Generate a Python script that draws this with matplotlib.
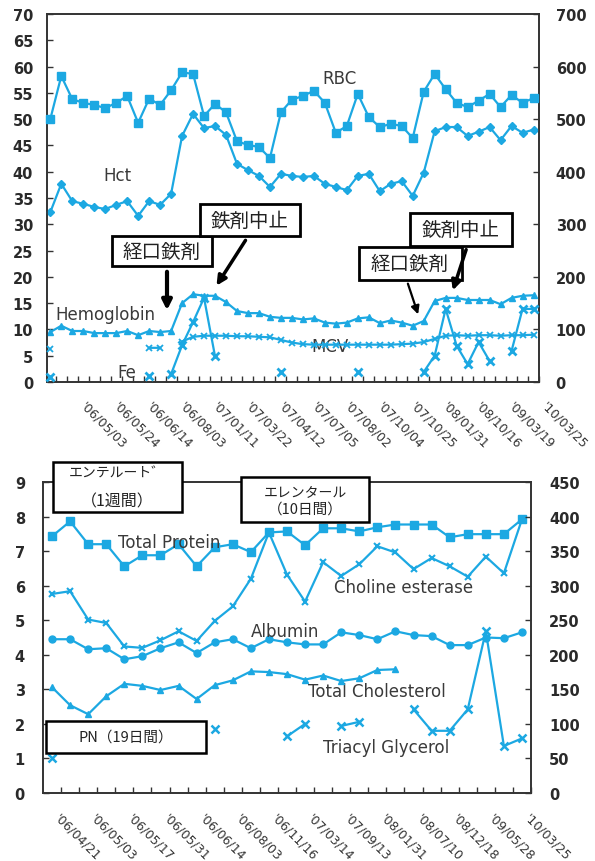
import matplotlib
matplotlib.use('Agg')
import matplotlib.pyplot as plt
from matplotlib.patches import Rectangle, FancyArrowPatch
import numpy as np

plt.rcParams['font.family'] = ['DejaVu Sans', 'Noto Sans CJK JP']

BLUE = '#1ca8e2'
INK = '#333333'
nan = np.nan

# ---- upper panel: blood count / iron ----
top_dates = ["'06/05/03", "'06/05/24", "'06/06/14", "'06/08/03", "'07/01/11",
             "'07/03/22", "'07/04/12", "'07/07/05", "'07/08/02", "'07/10/04",
             "'07/10/25", "'08/01/31", "'08/10/16", "'09/03/19", "'10/03/25"]

# RBC (x10^4/uL, right axis)
rbc = [500, 582, 538, 531, 527, 521, 531, 544, 493, 539, 527, 555, 589, 586, 506,
       529, 513, 458, 451, 447, 426, 513, 537, 544, 554, 531, 474, 487, 548, 504,
       485, 491, 487, 464, 552, 586, 557, 531, 523, 535, 548, 523, 546, 531, 540]
# Hct (%, left axis)
hct = [32.3, 37.7, 34.4, 33.9, 33.3, 32.9, 33.7, 34.4, 31.6, 34.4, 33.7, 35.8, 46.8,
       51.0, 48.3, 48.7, 47.0, 41.5, 40.3, 39.2, 37.1, 39.6, 39.2, 39.0, 39.2, 37.7,
       37.1, 36.5, 39.2, 39.6, 36.3, 37.7, 38.2, 35.4, 39.8, 47.7, 48.5, 48.5, 46.8,
       47.6, 48.5, 46.0, 48.7, 47.4, 48.0]
# Hemoglobin (g/dL, left axis)
hgb = [9.5, 10.7, 9.7, 9.7, 9.3, 9.3, 9.3, 9.7, 8.9, 9.7, 9.5, 9.7, 15.0, 16.7, 16.4,
       16.4, 15.2, 13.5, 13.1, 13.1, 12.4, 12.2, 12.2, 11.9, 12.1, 11.3, 11.1, 11.3,
       12.1, 12.3, 11.2, 11.7, 11.3, 10.7, 11.6, 15.4, 16.0, 16.0, 15.6, 15.6, 15.6,
       14.8, 16.0, 16.4, 16.5]
# MCV (fL, right axis)
mcv = [63, nan, nan, nan, nan, nan, nan, nan, nan, 65, 65, nan, 77, 86, 88,
       88, 88, 87, 87, 86, 85, 80, 75, 72, 71, 71, 71, 71, 71, 71,
       71, 71, 72, 73, 76, 82, 88, 89, 88, 89, 89, 88, 89, 89, 90]
# Fe (ug/dL, right axis)
fe = [10, nan, nan, nan, nan, nan, nan, nan, nan, 11, nan, 15, 70, 114, 160,
      49, nan, nan, nan, nan, nan, 19, nan, nan, nan, nan, nan, nan, 19, nan,
      nan, nan, nan, nan, 19, 50, 139, 69, 34, 76, 40, nan, 59, 139, 139]

# ---- lower panel: nutrition markers ----
bottom_dates = ["'06/04/21", "'06/05/03", "'06/05/17", "'06/05/31", "'06/06/14",
                "'06/08/03", "'06/11/16", "'07/03/14", "'07/09/13", "'08/01/31",
                "'08/07/10", "'08/12/18", "'09/05/28", "'10/03/25"]

total_protein = [7.43, 7.86, 7.2, 7.2, 6.56, 6.88, 6.88, 7.2, 6.56, 7.11, 7.2, 6.97,
                 7.54, 7.57, 7.17, 7.66, 7.66, 7.57, 7.69, 7.77, 7.77, 7.77, 7.4,
                 7.49, 7.49, 7.49, 7.92]
albumin = [4.45, 4.45, 4.16, 4.19, 3.87, 3.96, 4.19, 4.36, 4.05, 4.36, 4.45, 4.19,
           4.45, 4.36, 4.3, 4.3, 4.65, 4.57, 4.45, 4.68, 4.57, 4.54, 4.28, 4.28,
           4.5, 4.48, 4.65]
choline_esterase = [288, 292, 251, 246, 212, 210, 221, 234, 220, 249, 270, 310, 377,
                    316, 277, 334, 314, 331, 357, 348, 324, 340, 328, 313, 342, 318,
                    396]
total_cholesterol = [153, 127, 114, 140, 158, 155, 149, 155, 136, 156, 163, 176, 175,
                     172, 164, 170, 162, 166, 178, 179, nan, nan, nan, nan, nan, nan,
                     nan]
triacyl_glycerol = [50, nan, nan, nan, nan, nan, nan, nan, nan, 92, nan, nan, nan,
                    82, 100, nan, 97, 103, nan, nan, 121, 90, 90, 121, 234, 68, 79]


def series(ax, y, marker, ms, mew=1.0):
    y = np.asarray(y, dtype=float)
    ax.plot(np.arange(len(y)), y, color=BLUE, lw=1.6, marker=marker, ms=ms,
            mfc=BLUE, mec=BLUE, mew=mew, clip_on=False, zorder=3)


def style(ax, pad):
    for s in ax.spines.values():
        s.set_color(INK)
        s.set_linewidth(1.2)
    ax.tick_params(axis='y', direction='in', length=4, width=1, color=INK,
                   labelsize=10.5, labelcolor='#2a2a2a', pad=pad)
    for t in ax.get_yticklabels():
        t.set_fontweight('bold')


fig = plt.figure(figsize=(5.95, 8.62), dpi=100)

# upper panel
ax1 = fig.add_axes([47 / 595, 1 - 383 / 862, 492 / 595, 368 / 862])
ax2 = ax1.twinx()
ax1.set_xlim(-0.3, 44.5)
ax1.set_ylim(0, 70)
ax2.set_ylim(0, 700)
ax1.set_yticks(np.arange(0, 71, 5))
ax2.set_yticks(np.arange(0, 701, 100))
style(ax1, 10)
style(ax2, 12)

series(ax2, rbc, 's', 5.5)
series(ax1, hct, 'D', 4.5)
series(ax1, hgb, '^', 5)
series(ax2, mcv, 'x', 4, 1.3)
series(ax2, fe, 'x', 6, 2)

ax1.set_xticks(np.arange(0.5, 44.6, 1), minor=True)
ax1.set_xticks(np.arange(2.5, 44.6, 3))
ax1.set_xticklabels(top_dates)
ax1.tick_params(axis='x', which='both', direction='in', length=4, width=1,
                color=INK, pad=12, labelsize=9, labelcolor=INK)
plt.setp(ax1.get_xticklabels(), rotation=-45, ha='left', va='top',
         rotation_mode='default')

lab = dict(fontsize=12, color='#3a3a3a', ha='center', va='center', zorder=5)
ax1.text(26.3, 57.8, 'RBC', **lab)
ax1.text(6.1, 39.4, 'Hct', **lab)
ax1.text(5.0, 12.9, 'Hemoglobin', **lab)
ax1.text(7.0, 1.9, 'Fe', **lab)
ax1.text(25.5, 6.85, 'MCV', **lab)

# lower panel
bx1 = fig.add_axes([43 / 595, 1 - 794 / 862, 488 / 595, 311 / 862])
bx2 = bx1.twinx()
bx1.set_xlim(-0.5, 26.5)
bx1.set_ylim(0, 9)
bx2.set_ylim(0, 450)
bx1.set_yticks(np.arange(0, 10, 1))
bx2.set_yticks(np.arange(0, 451, 50))
style(bx1, 13)
style(bx2, 13)

series(bx1, total_protein, 's', 5.5)
series(bx1, albumin, 'o', 5)
series(bx2, choline_esterase, 'x', 5, 1.5)
series(bx2, total_cholesterol, '^', 5)
series(bx2, triacyl_glycerol, 'x', 6, 1.8)

bx1.set_xticks(np.arange(0.5, 26.6, 1), minor=True)
bx1.set_xticks(np.arange(0, 27, 2))
bx1.set_xticklabels(bottom_dates)
bx1.tick_params(axis='x', which='minor', direction='in', length=4, width=1, color=INK)
bx1.tick_params(axis='x', which='major', length=0, pad=13, labelsize=9,
                labelcolor=INK)
plt.setp(bx1.get_xticklabels(), rotation=-45, ha='left', va='top',
         rotation_mode='default')

bx1.text(6.5, 7.25, 'Total Protein', **lab)
bx1.text(19.45, 5.95, 'Choline esterase', **lab)
bx1.text(12.9, 4.68, 'Albumin', **lab)
bx1.text(17.96, 2.95, 'Total Cholesterol', **lab)
bx1.text(18.5, 1.33, 'Triacyl Glycerol', **lab)


# annotation boxes and arrows, placed in figure pixels
def fxy(x, y):
    return x / 595, 1 - y / 862


def box(x0, y0, x1, y1, lw):
    (a, b), (c, d) = fxy(x0, y1), fxy(x1, y0)
    fig.add_artist(Rectangle((a, b), c - a, d - b, transform=fig.transFigure,
                             facecolor='white', edgecolor='black', lw=lw, zorder=6))


def note(x, y, s, size):
    fig.text(*fxy(x, y), s, fontsize=size, ha='center', va='center', color='#222222',
             family=['Noto Sans CJK JP', 'DejaVu Sans'], zorder=7)


def arrow(x0, y0, x1, y1, lw, scale):
    fig.add_artist(FancyArrowPatch(fxy(x0, y0), fxy(x1, y1), transform=fig.transFigure,
                                   arrowstyle='-|>', mutation_scale=scale, lw=lw,
                                   color='black', zorder=8))


box(112, 237, 212, 267, 2)
note(162, 252, '経口鉄剤', 14)
box(200, 205, 300, 237, 2)
note(250, 221, '鉄剤中止', 14)
box(359, 248, 462, 281, 2)
note(410, 264, '経口鉄剤', 14)
box(410, 214, 512, 247, 2)
note(461, 230, '鉄剤中止', 14)

arrow(167, 270, 167, 314, 3, 14)
arrow(247, 239, 215, 289, 2.5, 14)
arrow(407, 282, 419, 318, 1.6, 12)
arrow(467, 248, 452, 294, 2.5, 14)

box(53, 463, 182, 513, 1.8)
note(117, 474, 'エンテルート゛', 10)
note(117, 502, '（1週間）', 11.5)
box(241, 478, 369, 523, 1.8)
note(305, 493, 'エレンタール', 10)
note(305, 510, '（10日間）', 10.5)
box(46, 722, 206, 754, 1.8)
note(126, 738, 'PN（19日間）', 10.5)

fig.savefig('out.png', dpi=100, facecolor='white')
